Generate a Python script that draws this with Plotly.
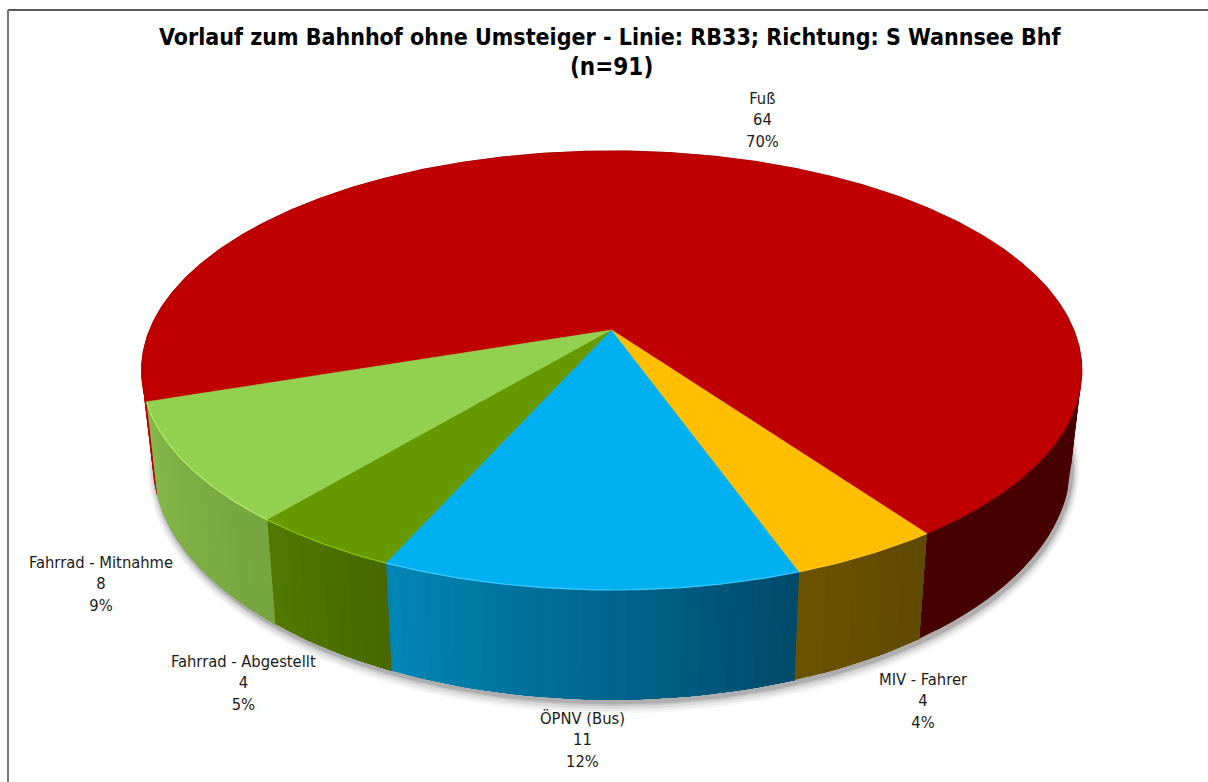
import numpy as np
import plotly.graph_objects as go

# ---- data (counter-clockwise on screen, starting at the front right) ----
categories = ["Fuß", "Fahrrad - Mitnahme", "Fahrrad - Abgestellt", "ÖPNV (Bus)", "MIV - Fahrer"]
counts = [64, 8, 4, 11, 4]
percent_labels = ["70%", "9%", "5%", "12%", "4%"]
title_lines = ["Vorlauf zum Bahnhof ohne Umsteiger - Linie: RB33; Richtung: S Wannsee Bhf", "(n=91)"]

# ---- styles ----
top_colors = ["#C00000", "#92D050", "#669900", "#00B0F0", "#FFBF00"]
side_left = ["#B80000", "#86B84B", "#527A00", "#0086B6", "#6B5300"]
side_right = ["#470000", "#74A53E", "#466800", "#004A6A", "#5F4900"]
rim_colors = ["#B00000", "#B4E86A", "#8FC010", "#3CCBFF", "#FFC820"]
label_xy = [(762, 120), (101, 584), (243, 683), (582, 740), (923, 701)]
FONT = "Tahoma, 'DejaVu Sans Condensed', 'DejaVu Sans', sans-serif"

# ---- perspective projection of the disc ----
CX, CY = 611.7, 330.0
K = 0.1845
TOP_A, TOP_B = 462.0, 212.0
BOT_A, BOT_B, BOT_CY = 451.0, 228.0, 420.0
START = 35.4


def project(theta_deg, a, b, cy, cx=CX):
    t = np.radians(theta_deg)
    X, Y = np.sin(t), np.cos(t)
    w = 1 - K * Y
    return cx + a * X / w, cy + b * Y / w


def top(t):
    return project(t, TOP_A, TOP_B, CY)


def bottom(t):
    return project(t, BOT_A, BOT_B, BOT_CY)


def hex2rgb(h):
    return np.array([int(h[i:i + 2], 16) for i in (1, 3, 5)], float)


def mix(a, b, f):
    c = hex2rgb(a) * (1 - f) + hex2rgb(b) * f
    return "rgb(%d,%d,%d)" % tuple(c.round())


angles = START + np.concatenate([[0], np.cumsum(counts)]) / sum(counts) * 360
fig = go.Figure()


def poly(x, y, color, opacity=1.0, lw=0.0):
    fig.add_trace(go.Scatter(x=list(x), y=list(y), mode="lines", fill="toself", fillcolor=color,
                             opacity=opacity, line=dict(color=color, width=lw), hoverinfo="skip",
                             showlegend=False))


def wall(lo, hi, color):
    tt = np.linspace(lo, hi, max(3, int((hi - lo) / 1.5) + 2))
    tx, ty = top(tt)
    bx, by = bottom(tt[::-1])
    poly(np.r_[tx, bx, tx[0]], np.r_[ty, by, ty[0]], color)


def flat_wall(lo, hi, color):
    # short overlapping bands: a long polygon would cross itself where the two rims meet
    for s in np.arange(lo, hi, 2.5):
        wall(s, min(s + 5, hi), color)


# soft shadow under the body
full = np.linspace(0, 360, 241)
for grow, op in [(9, .05), (7, .07), (5, .10), (3, .15), (1.5, .22)]:
    sx, sy = project(full, BOT_A + grow * 0.8, BOT_B + grow, BOT_CY + 3, CX + 2)
    poly(sx, sy, "#555555", op)

# side wall: the big slice flat, the others as overlapping bands for the colour run
flat_wall(angles[0], 105, side_right[0])
flat_wall(-105, angles[1] - 360, side_left[0])
for i in range(1, len(counts)):
    lo, hi = angles[i] - 360, angles[i + 1] - 360
    n = max(2, int((hi - lo) / 1.5))
    edges = np.linspace(lo, hi, n + 1)
    for j in range(n):
        wall(edges[j], hi, mix(side_left[i], side_right[i], (j + 0.5) / n))

# top face
for i in range(len(counts)):
    tt = np.linspace(angles[i], angles[i + 1], max(8, int(counts[i] * 8)))
    tx, ty = top(tt)
    poly(np.r_[CX, tx, CX], np.r_[CY, ty, CY], top_colors[i], lw=0.5)

# light rim along the front edge
for i in range(len(counts)):
    tt = np.linspace(angles[i], angles[i + 1], max(8, int(counts[i] * 8)))
    tx, ty = top(tt)
    fig.add_trace(go.Scatter(x=tx, y=ty, mode="lines", line=dict(color=rim_colors[i], width=1.2),
                             hoverinfo="skip", showlegend=False))

annotations = [dict(x=610.5, y=37, text="<b>" + title_lines[0] + "</b>", showarrow=False,
                    font=dict(family=FONT, size=23, color="#000000"), xanchor="center", yanchor="middle"),
               dict(x=611, y=67, text="<b>" + title_lines[1] + "</b>", showarrow=False,
                    font=dict(family=FONT, size=24, color="#000000"), xanchor="center", yanchor="middle")]
for name, cnt, pct, (lx, ly) in zip(categories, counts, percent_labels, label_xy):
    annotations.append(dict(x=lx, y=ly, text=f"{name}<br>{cnt}<br>{pct}", showarrow=False,
                            font=dict(family=FONT, size=16.4, color="#1a1a1a"),
                            xanchor="center", yanchor="middle", align="center"))

fig.update_layout(
    width=1208, height=782, margin=dict(l=0, r=0, t=0, b=0),
    paper_bgcolor="#FFFFFF", plot_bgcolor="#FFFFFF", showlegend=False,
    xaxis=dict(range=[0, 1208], visible=False, fixedrange=True),
    yaxis=dict(range=[782, 0], visible=False, fixedrange=True),
    annotations=annotations,
    shapes=[dict(type="line", x0=8, x1=1208, y0=10, y1=10, line=dict(color="#222222", width=1.5)),
            dict(type="line", x0=8, x1=8, y0=10, y1=782, line=dict(color="#777777", width=2))],
)
fig.write_html("out.html", config={"displayModeBar": False},
               post_script="document.body.style.margin='0';document.body.style.overflow='hidden';")
